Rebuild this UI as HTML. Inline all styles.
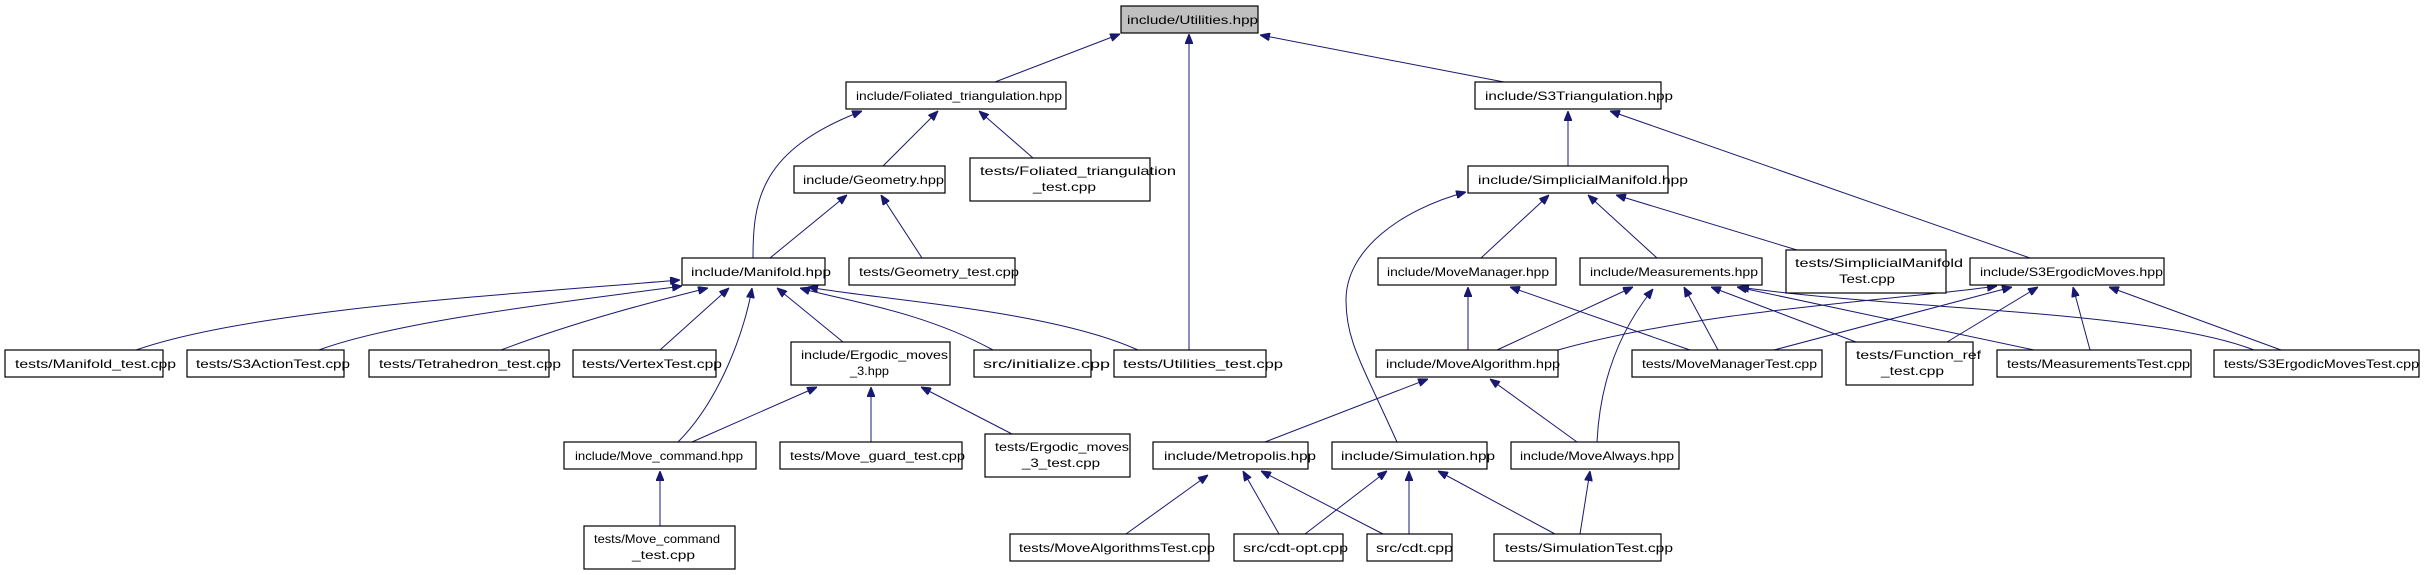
<!DOCTYPE html>
<html><head><meta charset="utf-8"><style>
html,body{margin:0;padding:0;background:#fff;}
svg{display:block;}
text{font-family:"Liberation Sans",sans-serif;font-size:12px;fill:#000;}
.n{fill:#fff;stroke:#000;stroke-width:1.2;}
.e{fill:none;stroke:#191970;stroke-width:1;}
</style></head><body>
<svg width="2424" height="575" viewBox="0 0 2424 575" xmlns="http://www.w3.org/2000/svg">
<defs><marker id="a" viewBox="0 0 10 8" refX="10" refY="4" markerWidth="10" markerHeight="8" markerUnits="userSpaceOnUse" orient="auto"><path d="M0,0 L10,4 L0,8 z" fill="#191970" stroke="#191970"/></marker></defs>
<g class="edges" marker-end="url(#a)">
<path class="e" marker-end="url(#a)" d="M995,82 L1120,34"/>
<path class="e" marker-end="url(#a)" d="M1504,82 L1260,35"/>
<path class="e" marker-end="url(#a)" d="M1189,350 L1189,34"/>
<path class="e" marker-end="url(#a)" d="M753,258 C753,200 760,150 862,111"/>
<path class="e" marker-end="url(#a)" d="M883,166 L938,111"/>
<path class="e" marker-end="url(#a)" d="M1033,158 L979,111"/>
<path class="e" marker-end="url(#a)" d="M770,258 L847,195"/>
<path class="e" marker-end="url(#a)" d="M922,258 L881,195"/>
<path class="e" marker-end="url(#a)" d="M136,350 C250,310 500,295 680,280"/>
<path class="e" marker-end="url(#a)" d="M319,350 C400,320 580,300 682,286"/>
<path class="e" marker-end="url(#a)" d="M501,350 C580,320 660,300 708,288"/>
<path class="e" marker-end="url(#a)" d="M660,350 L729,288"/>
<path class="e" marker-end="url(#a)" d="M678,442 C720,400 745,330 752,288"/>
<path class="e" marker-end="url(#a)" d="M843,342 L777,288"/>
<path class="e" marker-end="url(#a)" d="M993,350 C920,310 840,300 800,288"/>
<path class="e" marker-end="url(#a)" d="M1138,350 C1050,310 880,300 808,287"/>
<path class="e" marker-end="url(#a)" d="M692,442 L817,387"/>
<path class="e" marker-end="url(#a)" d="M871,442 L871,387"/>
<path class="e" marker-end="url(#a)" d="M1012,434 L921,387"/>
<path class="e" marker-end="url(#a)" d="M660,526 L660,471"/>
<path class="e" marker-end="url(#a)" d="M1568,166 L1568,111"/>
<path class="e" marker-end="url(#a)" d="M2030,258 L1610,111"/>
<path class="e" marker-end="url(#a)" d="M1481,258 L1549,195"/>
<path class="e" marker-end="url(#a)" d="M1657,258 L1588,195"/>
<path class="e" marker-end="url(#a)" d="M1797,250 L1616,195"/>
<path class="e" marker-end="url(#a)" d="M1397,442 C1360,360 1346,340 1346,300 C1346,250 1400,210 1466,192"/>
<path class="e" marker-end="url(#a)" d="M1468,350 L1468,287"/>
<path class="e" marker-end="url(#a)" d="M1497,350 L1633,287"/>
<path class="e" marker-end="url(#a)" d="M1558,350 C1700,310 1900,300 1997,286"/>
<path class="e" marker-end="url(#a)" d="M1690,350 L1510,287"/>
<path class="e" marker-end="url(#a)" d="M1718,350 L1684,287"/>
<path class="e" marker-end="url(#a)" d="M1774,350 L2012,287"/>
<path class="e" marker-end="url(#a)" d="M1597,442 C1600,380 1620,330 1653,289"/>
<path class="e" marker-end="url(#a)" d="M1856,342 L1711,287"/>
<path class="e" marker-end="url(#a)" d="M1947,342 L2038,287"/>
<path class="e" marker-end="url(#a)" d="M2034,350 L1737,287"/>
<path class="e" marker-end="url(#a)" d="M2090,350 L2073,287"/>
<path class="e" marker-end="url(#a)" d="M2254,350 C2150,310 1900,310 1739,287"/>
<path class="e" marker-end="url(#a)" d="M2281,350 L2109,287"/>
<path class="e" marker-end="url(#a)" d="M1265,442 L1428,379"/>
<path class="e" marker-end="url(#a)" d="M1577,442 L1490,379"/>
<path class="e" marker-end="url(#a)" d="M1126,534 L1208,475"/>
<path class="e" marker-end="url(#a)" d="M1279,534 L1243,471"/>
<path class="e" marker-end="url(#a)" d="M1383,534 L1261,471"/>
<path class="e" marker-end="url(#a)" d="M1305,534 L1387,471"/>
<path class="e" marker-end="url(#a)" d="M1409,534 L1409,471"/>
<path class="e" marker-end="url(#a)" d="M1555,534 L1438,471"/>
<path class="e" marker-end="url(#a)" d="M1580,534 L1590,471"/>
</g>
<g>
<rect x="1121" y="6" width="137" height="27" fill="#bfbfbf" stroke="#000" stroke-width="1.2"/><text x="1127" y="24" textLength="131" lengthAdjust="spacingAndGlyphs">include/Utilities.hpp</text>
<rect class="n" x="846" y="82" width="220" height="27"/><text x="856" y="100" textLength="206" lengthAdjust="spacingAndGlyphs">include/Foliated_triangulation.hpp</text>
<rect class="n" x="794" y="166" width="151" height="27"/><text x="803" y="184" textLength="141" lengthAdjust="spacingAndGlyphs">include/Geometry.hpp</text>
<rect class="n" x="970" y="158" width="180" height="43"/><text x="980" y="175" textLength="196" lengthAdjust="spacingAndGlyphs">tests/Foliated_triangulation</text><text x="1033" y="191" textLength="63" lengthAdjust="spacingAndGlyphs">_test.cpp</text>
<rect class="n" x="682" y="258" width="143" height="27"/><text x="691" y="276" textLength="140" lengthAdjust="spacingAndGlyphs">include/Manifold.hpp</text>
<rect class="n" x="849" y="258" width="166" height="27"/><text x="859" y="276" textLength="160" lengthAdjust="spacingAndGlyphs">tests/Geometry_test.cpp</text>
<rect class="n" x="5" y="350" width="158" height="27"/><text x="15" y="368" textLength="161" lengthAdjust="spacingAndGlyphs">tests/Manifold_test.cpp</text>
<rect class="n" x="187" y="350" width="157" height="27"/><text x="196" y="368" textLength="154" lengthAdjust="spacingAndGlyphs">tests/S3ActionTest.cpp</text>
<rect class="n" x="369" y="350" width="180" height="27"/><text x="379" y="368" textLength="182" lengthAdjust="spacingAndGlyphs">tests/Tetrahedron_test.cpp</text>
<rect class="n" x="573" y="350" width="143" height="27"/><text x="582" y="368" textLength="140" lengthAdjust="spacingAndGlyphs">tests/VertexTest.cpp</text>
<rect class="n" x="791" y="342" width="159" height="43"/><text x="801" y="359" textLength="147" lengthAdjust="spacingAndGlyphs">include/Ergodic_moves</text><text x="850" y="375" textLength="39" lengthAdjust="spacingAndGlyphs">_3.hpp</text>
<rect class="n" x="974" y="350" width="117" height="27"/><text x="983" y="368" textLength="127" lengthAdjust="spacingAndGlyphs">src/initialize.cpp</text>
<rect class="n" x="1114" y="350" width="152" height="27"/><text x="1123" y="368" textLength="160" lengthAdjust="spacingAndGlyphs">tests/Utilities_test.cpp</text>
<rect class="n" x="564" y="442" width="192" height="27"/><text x="575" y="460" textLength="168" lengthAdjust="spacingAndGlyphs">include/Move_command.hpp</text>
<rect class="n" x="780" y="442" width="182" height="27"/><text x="790" y="460" textLength="175" lengthAdjust="spacingAndGlyphs">tests/Move_guard_test.cpp</text>
<rect class="n" x="985" y="434" width="145" height="43"/><text x="995" y="451" textLength="134" lengthAdjust="spacingAndGlyphs">tests/Ergodic_moves</text><text x="1022" y="467" textLength="78" lengthAdjust="spacingAndGlyphs">_3_test.cpp</text>
<rect class="n" x="584" y="526" width="151" height="43"/><text x="594" y="543" textLength="126" lengthAdjust="spacingAndGlyphs">tests/Move_command</text><text x="632" y="559" textLength="63" lengthAdjust="spacingAndGlyphs">_test.cpp</text>
<rect class="n" x="1010" y="534" width="199" height="27"/><text x="1019" y="552" textLength="196" lengthAdjust="spacingAndGlyphs">tests/MoveAlgorithmsTest.cpp</text>
<rect class="n" x="1153" y="442" width="155" height="27"/><text x="1164" y="460" textLength="152" lengthAdjust="spacingAndGlyphs">include/Metropolis.hpp</text>
<rect class="n" x="1475" y="82" width="186" height="27"/><text x="1485" y="100" textLength="188" lengthAdjust="spacingAndGlyphs">include/S3Triangulation.hpp</text>
<rect class="n" x="1468" y="166" width="200" height="27"/><text x="1478" y="184" textLength="210" lengthAdjust="spacingAndGlyphs">include/SimplicialManifold.hpp</text>
<rect class="n" x="1378" y="258" width="178" height="27"/><text x="1387" y="276" textLength="162" lengthAdjust="spacingAndGlyphs">include/MoveManager.hpp</text>
<rect class="n" x="1580" y="258" width="182" height="27"/><text x="1590" y="276" textLength="168" lengthAdjust="spacingAndGlyphs">include/Measurements.hpp</text>
<rect class="n" x="1786" y="250" width="160" height="43"/><text x="1795" y="267" textLength="168" lengthAdjust="spacingAndGlyphs">tests/SimplicialManifold</text><text x="1839" y="283" textLength="56" lengthAdjust="spacingAndGlyphs">Test.cpp</text>
<rect class="n" x="1970" y="258" width="194" height="27"/><text x="1980" y="276" textLength="183" lengthAdjust="spacingAndGlyphs">include/S3ErgodicMoves.hpp</text>
<rect class="n" x="1376" y="350" width="182" height="27"/><text x="1386" y="368" textLength="174" lengthAdjust="spacingAndGlyphs">include/MoveAlgorithm.hpp</text>
<rect class="n" x="1632" y="350" width="190" height="27"/><text x="1642" y="368" textLength="175" lengthAdjust="spacingAndGlyphs">tests/MoveManagerTest.cpp</text>
<rect class="n" x="1846" y="342" width="127" height="43"/><text x="1856" y="359" textLength="125" lengthAdjust="spacingAndGlyphs">tests/Function_ref</text><text x="1881" y="375" textLength="63" lengthAdjust="spacingAndGlyphs">_test.cpp</text>
<rect class="n" x="1997" y="350" width="194" height="27"/><text x="2007" y="368" textLength="183" lengthAdjust="spacingAndGlyphs">tests/MeasurementsTest.cpp</text>
<rect class="n" x="2214" y="350" width="205" height="27"/><text x="2224" y="368" textLength="195" lengthAdjust="spacingAndGlyphs">tests/S3ErgodicMovesTest.cpp</text>
<rect class="n" x="1332" y="442" width="155" height="27"/><text x="1341" y="460" textLength="154" lengthAdjust="spacingAndGlyphs">include/Simulation.hpp</text>
<rect class="n" x="1511" y="442" width="168" height="27"/><text x="1520" y="460" textLength="154" lengthAdjust="spacingAndGlyphs">include/MoveAlways.hpp</text>
<rect class="n" x="1234" y="534" width="109" height="27"/><text x="1243" y="552" textLength="105" lengthAdjust="spacingAndGlyphs">src/cdt-opt.cpp</text>
<rect class="n" x="1367" y="534" width="85" height="27"/><text x="1376" y="552" textLength="77" lengthAdjust="spacingAndGlyphs">src/cdt.cpp</text>
<rect class="n" x="1494" y="534" width="167" height="27"/><text x="1505" y="552" textLength="168" lengthAdjust="spacingAndGlyphs">tests/SimulationTest.cpp</text>
</g>
</svg>
</body></html>
